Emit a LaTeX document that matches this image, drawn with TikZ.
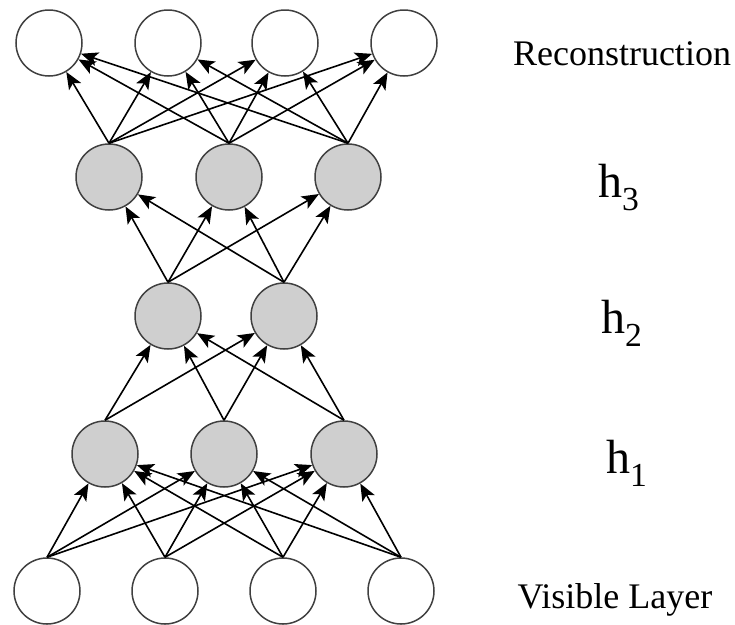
\documentclass[tikz,border=0pt]{standalone}
\usepackage{fontspec}
\setmainfont{Liberation Serif}
\usepackage{tikz}
\usetikzlibrary{arrows.meta}

\tikzset{
    unit/.style={draw=black!75, circle, line width=1.5pt, minimum size=66pt, inner sep=0pt, fill=white},
    hidden/.style={unit, fill=black!19},
    conn/.style={draw, line width=1.6pt, -{Stealth[length=17pt, width=14pt, inset=4pt]}},
    layername/.style={font=\fontsize{36}{40}\selectfont, anchor=base},
    hname/.style={font=\fontsize{48}{52}\selectfont, anchor=base west, inner sep=0pt}
}

\begin{document}
\begin{tikzpicture}[x=1pt, y=-1pt]
        \useasboundingbox (0,0) rectangle (735,624);

        % Define the nodes
        \node[unit] (r1) at (49,43) {};
        \node[unit] (r2) at (168,43) {};
        \node[unit] (r3) at (285,43) {};
        \node[unit] (r4) at (404,43) {};

        \node[hidden] (c1) at (109,177) {};
        \node[hidden] (c2) at (229,177) {};
        \node[hidden] (c3) at (348,177) {};

        \node[hidden] (b1) at (168,316) {};
        \node[hidden] (b2) at (284,316) {};

        \node[hidden] (a1) at (105,454) {};
        \node[hidden] (a2) at (224,454) {};
        \node[hidden] (a3) at (344,454) {};

        \node[unit] (v1) at (47,591) {};
        \node[unit] (v2) at (165,591) {};
        \node[unit] (v3) at (283,591) {};
        \node[unit] (v4) at (401,591) {};

        % Layer names
        \node[layername] (recon) at (622,65) {Reconstruction};
        \node[hname] (h3) at (598,197) {h\textsubscript{3}};
        \node[hname] (h2) at (601,333) {h\textsubscript{2}};
        \node[hname] (h1) at (606,473) {h\textsubscript{1}};
        \node[layername] (visible) at (615,608) {Visible Layer};

        % Define the edges
        \path (v1.north) edge[conn] (a1) edge[conn] (a2) edge[conn] (a3);
        \path (v2.north) edge[conn] (a1) edge[conn] (a2) edge[conn] (a3);
        \path (v3.north) edge[conn] (a1) edge[conn] (a2) edge[conn] (a3);
        \path (v4.north) edge[conn] (a1) edge[conn] (a2) edge[conn] (a3);

        \path (a1.north) edge[conn] (b1) edge[conn] (b2);
        \path (a2.north) edge[conn] (b1) edge[conn] (b2);
        \path (a3.north) edge[conn] (b1) edge[conn] (b2);

        \path (b1.north) edge[conn] (c1) edge[conn] (c2) edge[conn] (c3);
        \path (b2.north) edge[conn] (c1) edge[conn] (c2) edge[conn] (c3);

        \path (c1.north) edge[conn] (r1) edge[conn] (r2) edge[conn] (r3) edge[conn] (r4);
        \path (c2.north) edge[conn] (r1) edge[conn] (r2) edge[conn] (r3) edge[conn] (r4);
        \path (c3.north) edge[conn] (r1) edge[conn] (r2) edge[conn] (r3) edge[conn] (r4);
    \end{tikzpicture}
\end{document}
